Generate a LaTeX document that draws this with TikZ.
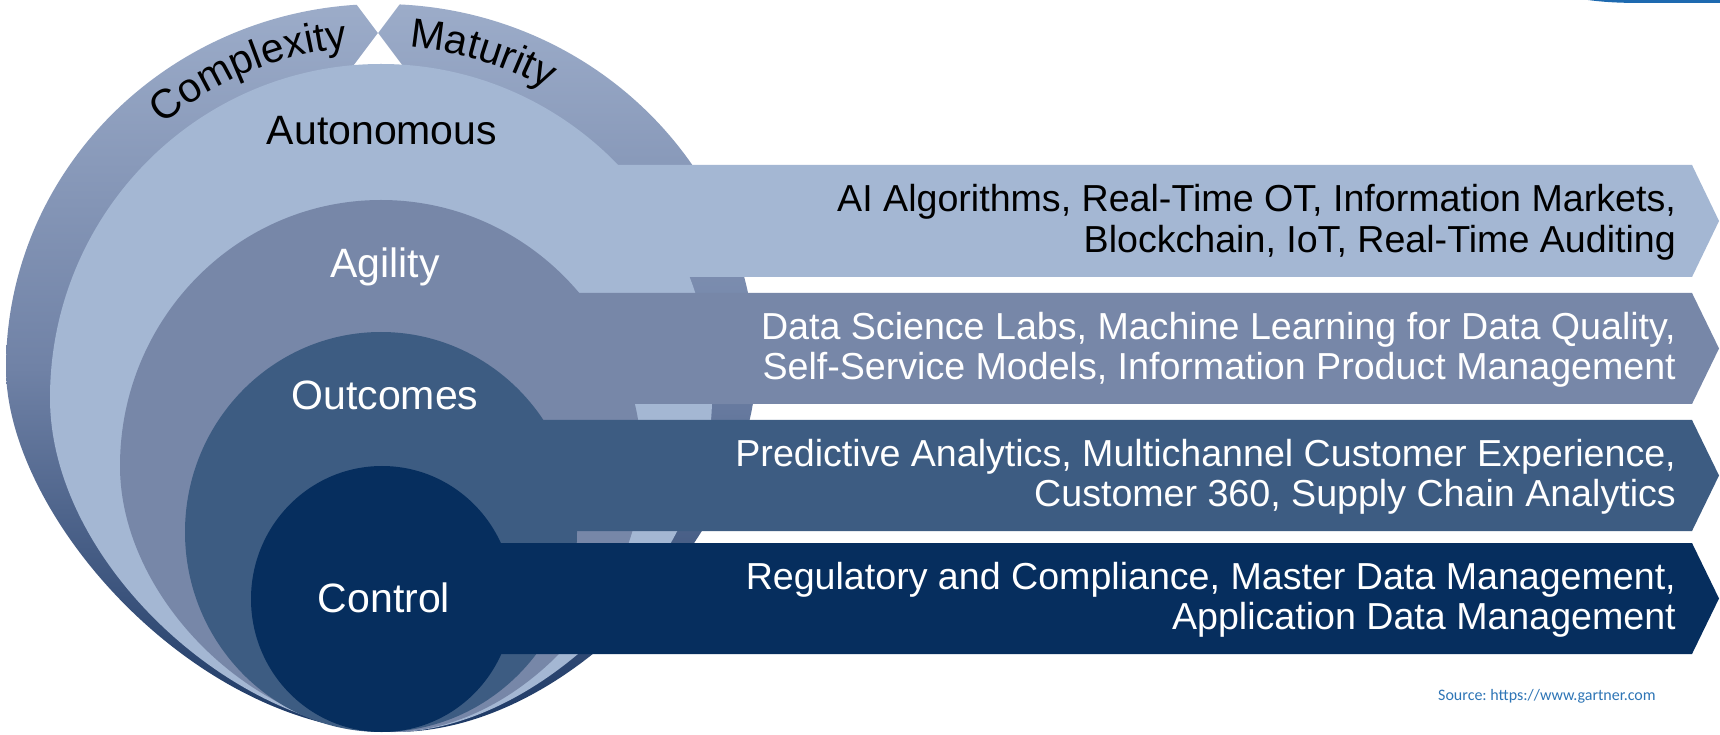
\documentclass[tikz,border=0pt]{standalone}
\usepackage{fontspec}
\setmainfont{Liberation Sans}
\newfontfamily\srcfont{Carlito}
\usetikzlibrary{decorations.text}
\definecolor{autoC}{RGB}{164,183,211}
\definecolor{agilC}{RGB}{119,135,168}
\definecolor{outcC}{RGB}{61,92,130}
\definecolor{ctrlC}{RGB}{6,46,94}
\definecolor{outTop}{RGB}{156,172,201}
\definecolor{outMid}{RGB}{112,130,166}
\definecolor{outBot}{RGB}{28,56,100}
\definecolor{srcC}{RGB}{46,117,182}
\definecolor{cornerC}{RGB}{30,106,176}
\frenchspacing
\begin{document}
\begin{tikzpicture}[x=1pt,y=1pt,
  lbl/.style={font=\fontsize{41}{49}\selectfont, inner sep=0pt, anchor=base},
  arrtxt/.style={font=\fontsize{37.6}{40.5}\selectfont, inner sep=0pt, anchor=east, align=right},
  arctxt/.style={decorate, decoration={text along path, text align=center, text={#1}}}
]
\useasboundingbox (0,0) rectangle (1720,734);
\clip (0,0) rectangle (1720,734);
\fill[white] (0,0) rectangle (1720,734);
% outer band
\path[top color=outTop, bottom color=outBot, middle color=outMid]
  (6,366) arc[start angle=180, end angle=0, x radius=375pt, y radius=364pt]
  .. controls (756,217) and (579,2) .. (395,2)
  .. controls (197,2) and (6,217) .. (6,366) -- cycle;
% notch
\fill[white] (348,741) -- (408,741) -- (378,701) -- cycle;
\fill[white] (378,701) -- (348,661) -- (408,661) -- cycle;
% autonomous
\fill[autoC] (50,336) arc[start angle=180, end angle=0, x radius=331pt, y radius=334pt]
  .. controls (712,169) and (537,2) .. (393,2)
  .. controls (239,2) and (50,169) .. (50,336) -- cycle;
\fill[autoC] (381,457) -- (1692,457) -- (1719,513) -- (1692,569) -- (381,569) -- cycle;
% agility
\fill[agilC] (120,268) arc[start angle=180, end angle=0, x radius=261pt, y radius=266pt]
  .. controls (642,135) and (517,2) .. (392,2)
  .. controls (256,2) and (120,135) .. (120,268) -- cycle;
\fill[agilC] (381,330) -- (1692,330) -- (1719,385.5) -- (1692,441) -- (381,441) -- cycle;
% outcomes
\fill[outcC] (381,202) ellipse [x radius=196pt, y radius=200pt];
\fill[outcC] (381,203) -- (1692,203) -- (1719,258.5) -- (1692,314) -- (381,314) -- cycle;
% control
\fill[ctrlC] (382,135) ellipse [x radius=131pt, y radius=133pt];
\fill[ctrlC] (381,80) -- (1692,80) -- (1719,135.5) -- (1692,191) -- (381,191) -- cycle;
% labels
\node[lbl] (autoL) at (382,589) {Autonomous};
\node[lbl, text=white] (agilL) at (385,456) {Agility};
\node[lbl, text=white] (outcL) at (385,324) {Outcomes};
\node[lbl, text=white] (ctrlL) at (384,122) {Control};
% arrow texts
\node[arrtxt] (t1) at (1676,511.5) {AI Algorithms, Real-Time OT, Information Markets,\\Blockchain, IoT, Real-Time Auditing};
\node[arrtxt, text=white] (t2) at (1676,384) {Data Science Labs, Machine Learning for Data Quality,\\Self-Service Models, Information Product Management};
\node[arrtxt, text=white] (t3) at (1676,257) {Predictive Analytics, Multichannel Customer Experience,\\Customer 360, Supply Chain Analytics};
\node[arrtxt, text=white] (t4) at (1676,134) {Regulatory and Compliance, Master Data Management,\\Application Data Management};
% curved texts
\path[arctxt={|\fontsize{41}{41}\selectfont|Complexity}] (381,366) ++(150:333pt and 322pt) arc[start angle=150, end angle=77, x radius=333pt, y radius=322pt];
\path[arctxt={|\fontsize{41}{41}\selectfont|Maturity}] (381,366) ++(101:333pt and 322pt) arc[start angle=101, end angle=44, x radius=333pt, y radius=322pt];
% source
\node[anchor=base west, inner sep=0pt, text=srcC, font=\srcfont\fontsize{16}{19}\selectfont] (src) at (1438,34) {Source: https://www.gartner.com};
% corner
\fill[cornerC] (1588,734) .. controls (1610,731) and (1630,731) .. (1650,731) -- (1720,731) -- (1720,734) -- cycle;
\end{tikzpicture}
\end{document}
